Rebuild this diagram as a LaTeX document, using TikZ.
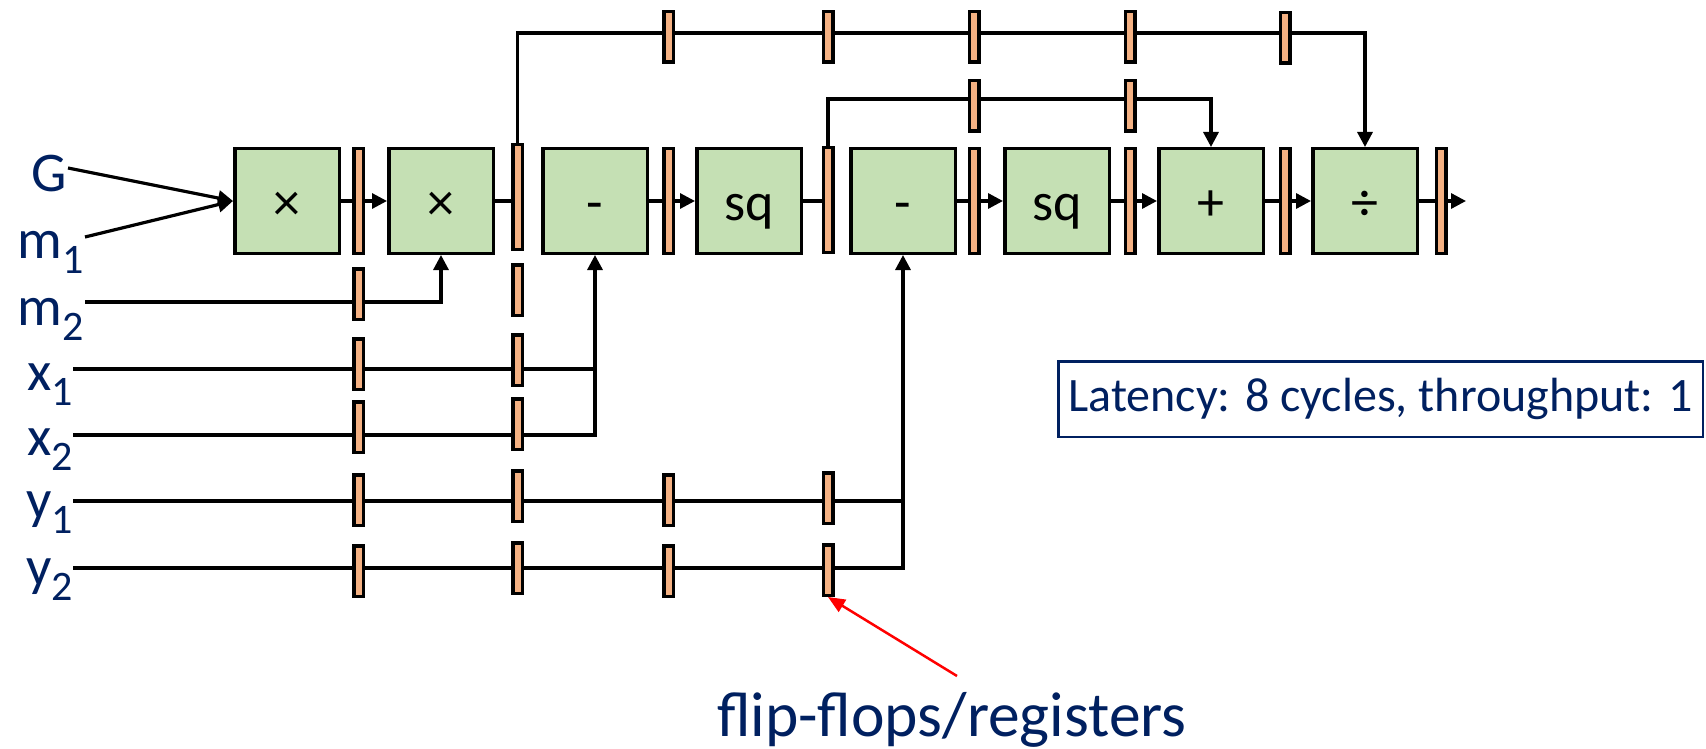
\documentclass[tikz,border=0pt]{standalone}
\usepackage{fontspec}
\setmainfont{Carlito}
\usetikzlibrary{arrows.meta,backgrounds}
\definecolor{navy}{HTML}{002060}
\definecolor{boxgreen}{HTML}{C5E0B4}
\definecolor{regorange}{HTML}{F4B183}
\newcommand\lbl[2]{#1\raisebox{-15pt}{\fontsize{42}{42}\selectfont #2}}
\begin{document}
\begin{tikzpicture}[x=1pt,y=-1pt,
  opbox/.style={draw=black, line width=3.5pt, fill=boxgreen, minimum width=104.5pt, minimum height=104.5pt, inner sep=0pt, text height=38pt, text depth=0pt, font=\fontsize{54}{54}\selectfont},
  regbar/.style={draw=black, line width=3.5pt, fill=regorange, minimum width=9.5pt, minimum height=50.5pt, inner sep=0pt},
  regtall/.style={regbar, minimum height=104.5pt},
  wire/.style={line width=3.2pt, black},
  arr/.style={wire, -{Triangle[length=15pt,width=15pt]}},
  inlabel/.style={text=navy, inner sep=0pt, anchor=base east, font=\fontsize{56}{56}\selectfont},
]
\useasboundingbox (0,0) rectangle (1706,749);

% operator boxes
\node[opbox] (b1) at (287,201) {×};
\node[opbox] (b2) at (441,201) {×};
\node[opbox] (b3) at (595,201) {-};
\node[opbox] (b4) at (749,201) {sq};
\node[opbox] (b5) at (903,201) {-};
\node[opbox] (b6) at (1057,201) {sq};
\node[opbox] (b7) at (1211,201) {+};
\node[opbox] (b8) at (1365,201) {÷};

% main row registers
\node[regtall] (r1) at (358.5,201) {};
\node[regtall] (rt1) at (517.5,197) {};
\node[regtall] (r3) at (668.5,201) {};
\node[regtall] (rt2) at (828,200) {};
\node[regtall] (r5) at (974,201) {};
\node[regtall] (r6) at (1130,201) {};
\node[regtall] (r7) at (1285,201) {};
\node[regtall] (r8) at (1441,201) {};

% top row registers
\node[regbar] (u3) at (668.5,37) {};
\node[regbar] (u4) at (828,37) {};
\node[regbar] (u5) at (974,37) {};
\node[regbar] (u6) at (1130,37) {};
\node[regbar] (u7) at (1285,38) {};
% second row registers
\node[regbar] (v5) at (974,106) {};
\node[regbar] (v6) at (1130,106) {};

% input column registers
\node[regbar] (am2) at (358.5,294) {};
\node[regbar] (bm2) at (517.5,290) {};
\node[regbar] (ax1) at (358.5,364) {};
\node[regbar] (bx1) at (517.5,360) {};
\node[regbar] (ax2) at (358.5,427) {};
\node[regbar] (bx2) at (517.5,424) {};
\node[regbar] (ay1) at (358.5,500) {};
\node[regbar] (by1) at (517.5,496) {};
\node[regbar] (cy1) at (668.5,500) {};
\node[regbar] (dy1) at (828,498) {};
\node[regbar] (ay2) at (358.5,571) {};
\node[regbar] (by2) at (517.5,568) {};
\node[regbar] (cy2) at (668.5,571) {};
\node[regbar] (dy2) at (828,570) {};

% input labels
\node[inlabel] (lG) at (67,191) {G};
\node[inlabel] (lm1) at (84,258) {\lbl{m}{1}};
\node[inlabel] (lm2) at (84,325) {\lbl{m}{2}};
\node[inlabel] (lx1) at (73,390) {\lbl{x}{1}};
\node[inlabel] (lx2) at (73,455) {\lbl{x}{2}};
\node[inlabel] (ly1) at (73,518) {\lbl{y}{1}};
\node[inlabel] (ly2) at (73,585) {\lbl{y}{2}};

\coordinate (Gs) at (68,168);
\coordinate (m1s) at (85,237);
\coordinate (m2s) at (85,302);
\coordinate (x1s) at (73,369);
\coordinate (x2s) at (73,435);
\coordinate (y1s) at (73,501);
\coordinate (y2s) at (73,568);
\coordinate (x1j) at (595,369);
\coordinate (y1j) at (903,501);
\coordinate (out) at (1466,201);
\coordinate (tl) at (517.5,33);
\coordinate (tr) at (1365,33);
\coordinate (sl) at (828,99);
\coordinate (sr) at (1211,99);

\begin{scope}[on background layer]
\draw[arr] (b1.east) -- (b2.west);
\draw[wire] (b2.east) -- (b2.east -| rt1.center);
\draw[arr] (rt1.north) -- (tl) -- (tr) -- (b8.north);
\draw[arr] (b3.east) -- (b4.west);
\draw[wire] (b4.east) -- (b4.east -| rt2.center);
\draw[arr] (rt2.north) -- (sl) -- (sr) -- (b7.north);
\draw[arr] (b5.east) -- (b6.west);
\draw[arr] (b6.east) -- (b7.west);
\draw[arr] (b7.east) -- (b8.west);
\draw[arr] (b8.east) -- (out);
\draw[arr] (Gs) -- (b1.west);
\draw[arr] (m1s) -- (b1.west);
\draw[arr] (m2s) -| (b2.south);
\draw[wire] (x1s) -- (x1j);
\draw[arr] (x2s) -| (b3.south);
\draw[wire] (y1s) -- (y1j);
\draw[arr] (y2s) -| (b5.south);
\end{scope}

% latency box
\node[draw=navy, line width=2.5pt, text=navy, minimum width=644.5pt, minimum height=75.5pt, inner sep=0pt, font=\fontsize{48}{48}\selectfont] (lat) at (1380.5,399) {Latency: 8 cycles, throughput: 1};

% flip-flops label
\node[text=navy, anchor=base west, inner sep=0pt, font=\fontsize{63.5}{63.5}\selectfont] (ff) at (717,736) {flip-flops/registers};
\coordinate (redstart) at (957,676);
\draw[red, line width=2.5pt, -{Triangle[length=17pt,width=14pt]}] (redstart) -- (dy2.south);
\end{tikzpicture}
\end{document}
